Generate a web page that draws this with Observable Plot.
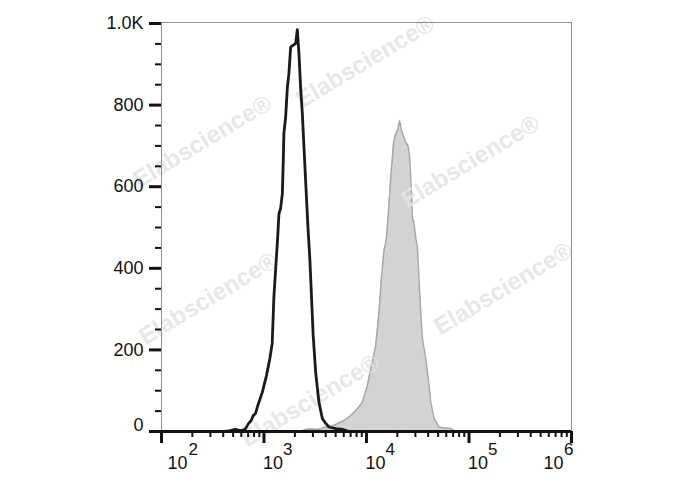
<!DOCTYPE html>
<html><head><meta charset="utf-8">
<script src="https://cdn.jsdelivr.net/npm/d3@7"></script>
<script src="https://cdn.jsdelivr.net/npm/@observablehq/plot@0.6"></script>
<style>
html,body{margin:0;padding:0;background:#fff;}
svg{display:block;}
</style></head><body><div id="chart"></div>
<script>
// Control histogram (black outline): log10 fluorescence and event count
const blackLog = [2.62, 2.67, 2.72, 2.77, 2.80, 2.82, 2.85, 2.875, 2.895, 2.917, 2.94, 2.983, 3.024, 3.057, 3.08, 3.09, 3.096, 3.113, 3.13, 3.146, 3.162, 3.179, 3.188, 3.194, 3.211, 3.228, 3.243, 3.26, 3.279, 3.309, 3.325, 3.341, 3.357, 3.374, 3.39, 3.406, 3.429, 3.448, 3.465, 3.48, 3.504, 3.536, 3.569, 3.602, 3.634, 3.699, 3.765, 3.83];
const blackCount = [0, 2, 5, 2, 4, 7, 20, 27, 39, 44, 64, 96, 137, 179, 216, 284, 328, 395, 461, 534, 547, 583, 664, 730, 770, 844, 877, 942, 946, 951, 985, 926, 844, 779, 697, 615, 500, 419, 321, 235, 145, 72, 32, 20, 11, 7, 5, 0];
// Stained histogram (grey filled)
const greyLog = [3.357, 3.406, 3.455, 3.504, 3.553, 3.585, 3.65, 3.715, 3.78, 3.829, 3.878, 3.911, 3.96, 4.009, 4.034, 4.057, 4.09, 4.122, 4.145, 4.171, 4.187, 4.197, 4.21, 4.224, 4.236, 4.253, 4.263, 4.278, 4.301, 4.324, 4.341, 4.36, 4.382, 4.405, 4.421, 4.431, 4.441, 4.448, 4.463, 4.48, 4.497, 4.512, 4.529, 4.545, 4.578, 4.594, 4.61, 4.627, 4.659, 4.708, 4.773, 4.822, 4.854, 4.88];
const greyCount = [0, 5, 7, 5, 7, 10, 12, 19, 27, 35, 47, 56, 72, 113, 145, 170, 211, 292, 375, 445, 462, 480, 525, 574, 623, 672, 705, 725, 738, 762, 738, 725, 709, 701, 672, 623, 574, 525, 510, 476, 450, 375, 292, 228, 179, 145, 113, 72, 32, 11, 8, 8, 2, 0];

// Axis ticks and labels
const yMajor = [0, 200, 400, 600, 800, 1000];
const yMinor = [50, 100, 150, 250, 300, 350, 450, 500, 550, 650, 700, 750, 850, 900, 950];
const yLabels = ["0", "200", "400", "600", "800", "1.0K"];
const xExponents = [2, 3, 4, 5, 6];
const xMinorMultipliers = [2, 3, 4, 5, 6, 7, 8, 9];
const watermarkText = "Elabscience®";

const black = blackLog.map((l, i) => ({fl: Math.pow(10, l), count: blackCount[i]}));
const grey = greyLog.map((l, i) => ({fl: Math.pow(10, l), count: greyCount[i]}));
const xMajor = xExponents.map(e => Math.pow(10, e));
const xMinor = xExponents.slice(0, -1).flatMap(e => xMinorMultipliers.map(m => m * Math.pow(10, e)));
const labelOf = v => yLabels[yMajor.indexOf(v)];

const font = "'Liberation Sans', Arial, sans-serif";
const ink = "#111";

// watermark offsets from the frame's top-left corner (decoration only)
const wmSpots = [[199, 31], [36, 111], [304, 131], [42, 268], [337, 258], [144, 370]];
const watermarks = wmSpots.map(([ox, oy]) => Plot.text([watermarkText], {
  text: d => d, frameAnchor: "top-left", dx: ox, dy: oy, rotate: -31,
  fontSize: 24, fontWeight: "bold", fill: "#e3e3e3", fillOpacity: 0.85, textAnchor: "middle"
}));

const plot = Plot.plot({
  width: 688,
  height: 490,
  marginLeft: 161,
  marginRight: 117,
  marginTop: 22,
  marginBottom: 59,
  x: {type: "log", domain: [1e2, 1e6]},
  y: {domain: [0, 1002.5]},
  style: {fontFamily: font, fontSize: "18px", color: ink, background: "#fff"},
  marks: [
    Plot.areaY(grey, {x: "fl", y: "count", fill: "#d3d3d3"}),
    Plot.lineY(grey, {x: "fl", y: "count", stroke: "#a8a8a8", strokeWidth: 1.5}),
    ...watermarks,
    Plot.lineY(black, {x: "fl", y: "count", stroke: "#1a1a1a", strokeWidth: 2.8}),
    Plot.frame({stroke: "#8f8f8f", strokeWidth: 1}),
    Plot.ruleY([0], {stroke: ink, strokeWidth: 3}),
    // y axis ticks
    Plot.axisY({ticks: yMinor, tickSize: 6, stroke: ink, strokeWidth: 2, tickFormat: () => "", label: null}),
    Plot.axisY({ticks: yMajor, tickSize: 12, tickPadding: 6, stroke: ink, strokeWidth: 3, fontSize: 18, fill: ink,
      tickFormat: v => (v === 0 ? "" : labelOf(v)), label: null}),
    Plot.text(yMajor.filter(v => v === 0), {y: v => v, text: labelOf, frameAnchor: "left", textAnchor: "end", dx: -18, dy: -6, fontSize: 18, fill: ink}),
    // x axis ticks
    Plot.axisX({ticks: xMinor, tickSize: 6, stroke: ink, strokeWidth: 2, tickFormat: () => "", label: null}),
    Plot.axisX({ticks: xMajor, tickSize: 12, stroke: ink, strokeWidth: 3, tickFormat: () => "", label: null}),
    // x labels: "10" with raised exponent
    Plot.text(xExponents.filter(e => e === 2), {x: e => Math.pow(10, e), text: () => "10", frameAnchor: "bottom", textAnchor: "start", dx: 6, dy: 37.5, fontSize: 18, fill: ink}),
    Plot.text(xExponents.filter(e => e === 2), {x: e => Math.pow(10, e), text: e => String(e), frameAnchor: "bottom", textAnchor: "start", dx: 27, dy: 23, fontSize: 17, fill: ink}),
    Plot.text(xExponents.filter(e => e > 2 && e < 6), {x: e => Math.pow(10, e), text: () => "10", frameAnchor: "bottom", textAnchor: "start", dx: -1, dy: 37.5, fontSize: 18, fill: ink}),
    Plot.text(xExponents.filter(e => e > 2 && e < 6), {x: e => Math.pow(10, e), text: e => String(e), frameAnchor: "bottom", textAnchor: "start", dx: 19, dy: 23, fontSize: 17, fill: ink}),
    Plot.text(xExponents.filter(e => e === 6), {x: e => Math.pow(10, e), text: () => "10", frameAnchor: "bottom", textAnchor: "end", dx: -8, dy: 37.5, fontSize: 18, fill: ink}),
    Plot.text(xExponents.filter(e => e === 6), {x: e => Math.pow(10, e), text: e => String(e), frameAnchor: "bottom", textAnchor: "end", dx: 2, dy: 23, fontSize: 17, fill: ink})
  ]
});

document.getElementById("chart").appendChild(plot);
</script>
</body></html>
